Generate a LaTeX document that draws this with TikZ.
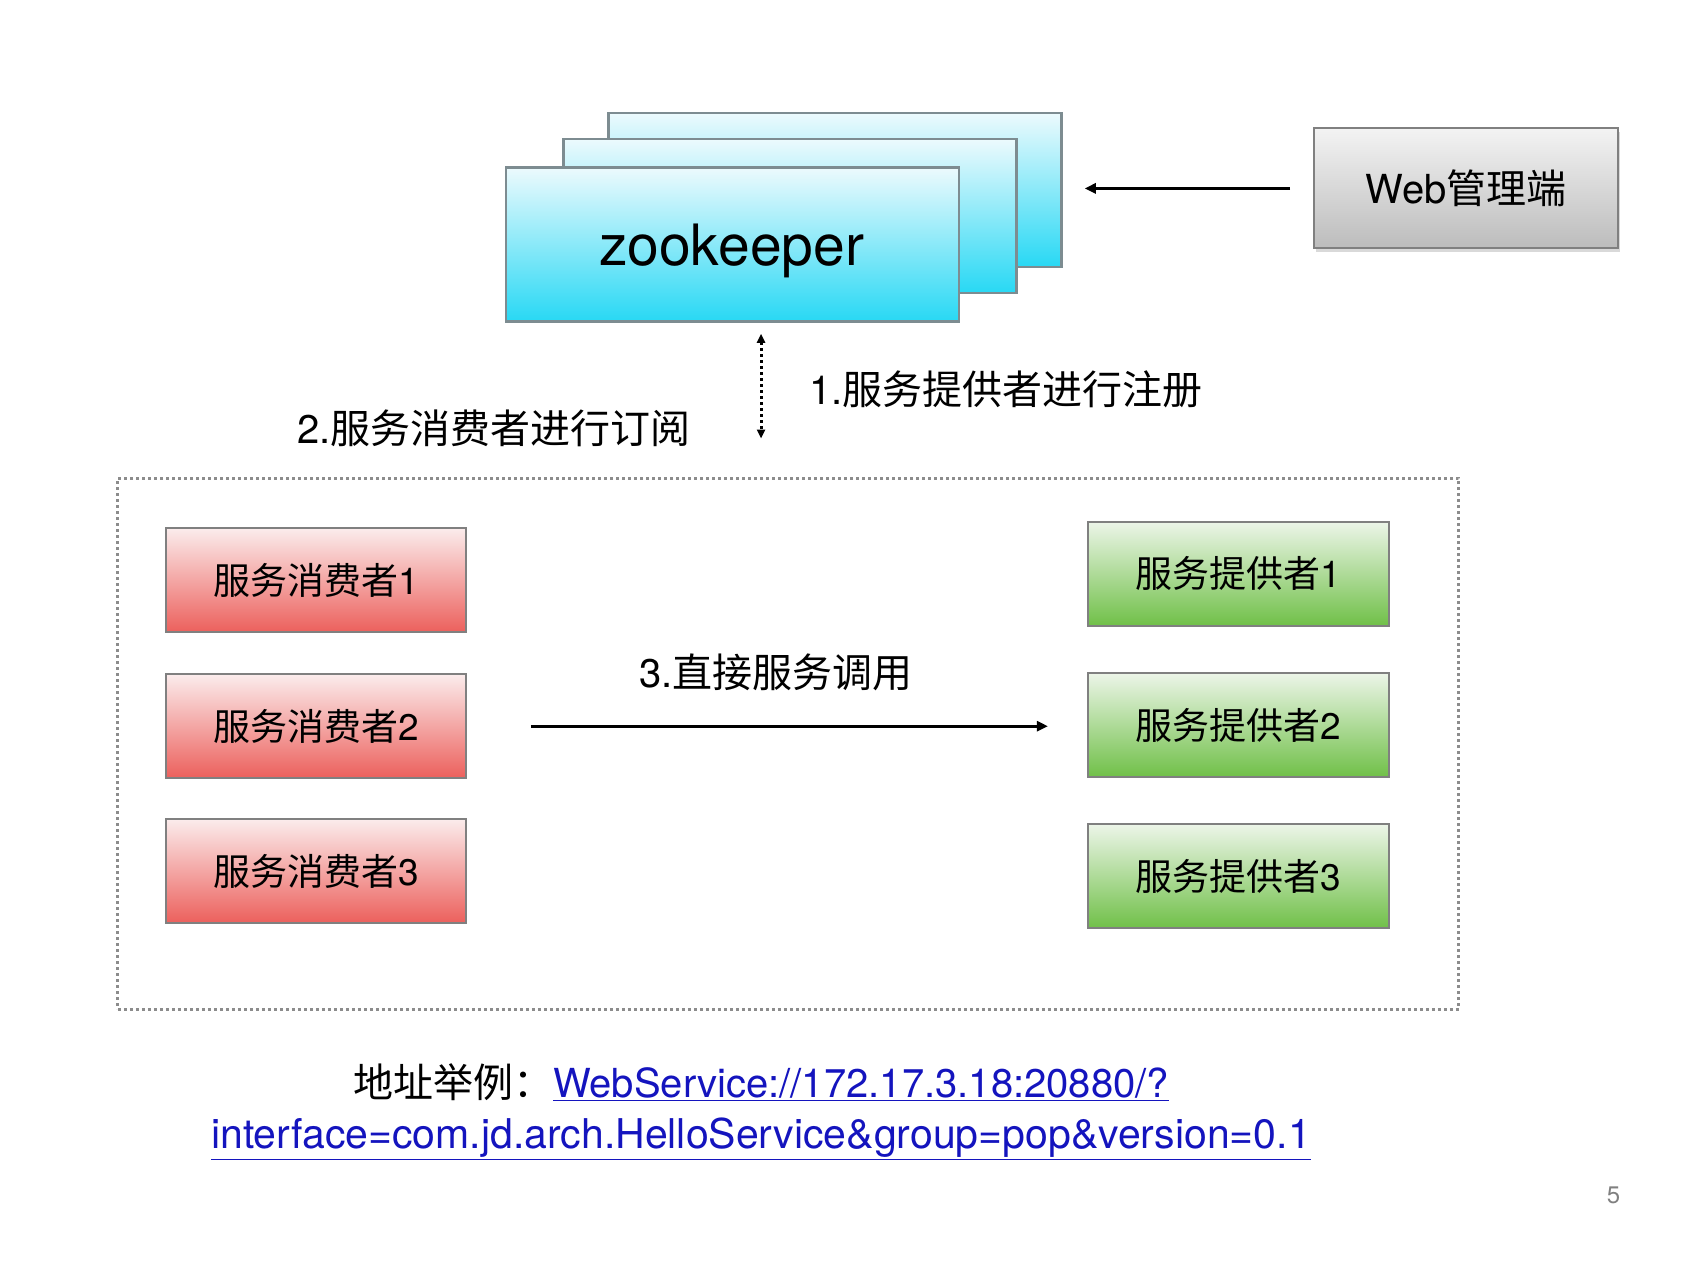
\documentclass[tikz,border=0pt]{standalone}
\usepackage{fontspec}
\setmainfont{TeX Gyre Heros}
\newfontfamily\zhfont{Noto Sans CJK SC}
\usepackage{tikz}
\usetikzlibrary{positioning,arrows.meta,shadows}
\usepackage{xcolor}
\definecolor{zktop}{RGB}{236,250,253}
\definecolor{zkbot}{RGB}{40,216,244}
\definecolor{zkline}{RGB}{125,140,145}
\definecolor{redtop}{RGB}{251,236,236}
\definecolor{redbot}{RGB}{236,96,92}
\definecolor{greentop}{RGB}{236,245,232}
\definecolor{greenbot}{RGB}{112,192,72}
\definecolor{webtop}{RGB}{243,243,243}
\definecolor{webbot}{RGB}{188,188,188}
\definecolor{boxline}{RGB}{128,128,128}
\definecolor{linkblue}{RGB}{20,20,190}
\newcommand{\zh}[1]{{\zhfont #1}}
\newcommand{\px}[1]{\fontsize{#1}{#1}\selectfont}
\newcommand{\link}[1]{\textcolor{linkblue}{\underline{#1}}}

\begin{document}
\begin{tikzpicture}[x=1pt, y=-1pt,
  zkbox/.style={draw=zkline, line width=2.5pt, top color=zktop, bottom color=zkbot, minimum width=453, minimum height=154},
  consumer/.style={draw=boxline, line width=2pt, top color=redtop, bottom color=redbot, minimum width=300, minimum height=104, font=\px{37}},
  provider/.style={draw=boxline, line width=2pt, top color=greentop, bottom color=greenbot, minimum width=301, minimum height=104, font=\px{37}},
  arr/.style={line width=3pt, -{Triangle[length=11pt,width=10pt]}},
  dotarr/.style={line width=3pt, dash pattern=on 3pt off 3pt, {Triangle[length=9pt,width=8pt]}-{Triangle[length=9pt,width=8pt]}}]
  \useasboundingbox (0,0) rectangle (1707,1280);
  \node[zkbox] (zk3) at (835,190) {};
  \node[zkbox] (zk2) at (790,216) {};
  \node[zkbox] (zk1) at (732.5,244.5) {};
  \node[font=\px{57}] (zklabel) at (731.6,251) {zookeeper};
  \node[draw=boxline, line width=2pt, top color=webtop, bottom color=webbot, minimum width=304, minimum height=120, font=\px{40},
        drop shadow={shadow xshift=2pt, shadow yshift=-4pt, opacity=0.3}] (web) at (1466,188.4) {Web\zh{管理端}};
  \draw[arr, shorten <=23pt, shorten >=22pt] (web.west) -- (web.west -| zk3.east);
  \node[draw=gray!90, line width=3pt, dash pattern=on 3pt off 3pt, minimum width=1341, minimum height=531] (region) at (788.3,743.5) {};
  \draw[dotarr, shorten <=11pt, shorten >=38pt] ([xshift=28.5pt]zk1.south) -- ([xshift=-27.3pt]region.north);
  \node[font=\px{40}, anchor=west] (regist) at (805.6,389.8) {1.\zh{服务提供者进行注册}};
  \node[font=\px{40}] (subscr) at (493.7,427.9) {2.\zh{服务消费者进行订阅}};
  \node[consumer] (consumer1) at (315.8,580.3) {\zh{服务消费者}1};
  \node[consumer] (consumer2) at (315.8,726.2) {\zh{服务消费者}2};
  \node[consumer] (consumer3) at (315.8,871) {\zh{服务消费者}3};
  \node[provider] (provider1) at (1238.4,573.8) {\zh{服务提供者}1};
  \node[provider] (provider2) at (1238.4,725) {\zh{服务提供者}2};
  \node[provider] (provider3) at (1238.4,876.4) {\zh{服务提供者}3};
  \draw[arr, shorten <=64pt, shorten >=39pt] (consumer2.east) -- (consumer2.east -| provider2.west);
  \node[font=\px{40}] (call) at (776,672.8) {3.\zh{直接服务调用}};
  \node[font=\px{40}, align=center] (addr) at (761,1112) {\zh{地址举例：}\link{WebService://172.17.3.18:20880/?}\\[11pt]
    {\px{41}\link{interface=com.jd.arch.HelloService\&group=pop\&version=0.1}}};
  \node[font=\px{24}, text=gray] (pagenum) at (1613.5,1195.4) {5};
\end{tikzpicture}
\end{document}
